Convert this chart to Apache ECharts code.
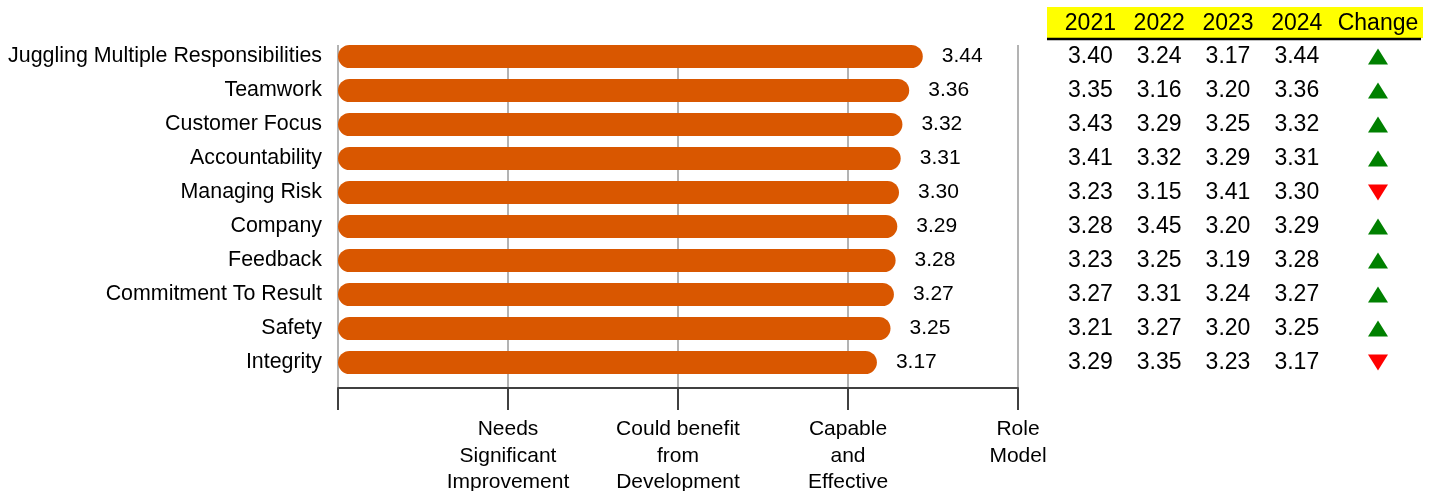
<!DOCTYPE html>
<html>
<head>
<meta charset="utf-8">
<title>Competency scores</title>
<script src="https://cdn.jsdelivr.net/npm/echarts@6/dist/echarts.min.js"></script>
<style>
  html, body { margin: 0; padding: 0; background: #fff; }
  #chart { width: 1436px; height: 491px; }
</style>
</head>
<body>
<div id="chart"></div>
<script>
  // categories, top to bottom
  var categories = ['Juggling Multiple Responsibilities', 'Teamwork', 'Customer Focus', 'Accountability',
    'Managing Risk', 'Company', 'Feedback', 'Commitment To Result', 'Safety', 'Integrity'];
  // yearly scores
  var scores2021 = [3.40, 3.35, 3.43, 3.41, 3.23, 3.28, 3.23, 3.27, 3.21, 3.29];
  var scores2022 = [3.24, 3.16, 3.29, 3.32, 3.15, 3.45, 3.25, 3.31, 3.27, 3.35];
  var scores2023 = [3.17, 3.20, 3.25, 3.29, 3.41, 3.20, 3.19, 3.24, 3.20, 3.23];
  var scores2024 = [3.44, 3.36, 3.32, 3.31, 3.30, 3.29, 3.28, 3.27, 3.25, 3.17];
  var yearColumns = ['2021', '2022', '2023', '2024'];
  var changeColumn = ['Change'];
  // rating scale labels (tick 0 has none)
  var scaleLabels = ['', 'Needs\nSignificant\nImprovement', 'Could benefit\nfrom\nDevelopment', 'Capable\nand\nEffective', 'Role\nModel'];

  var font = "'Liberation Sans', Arial, sans-serif";
  var chart = echarts.init(document.getElementById('chart'));

  // table cells
  var yearCols = [scores2021, scores2022, scores2023, scores2024];
  var cells = [];
  yearCols.forEach(function (col, ci) {
    col.forEach(function (v, ri) {
      cells.push([yearColumns[ci], categories[ri], v]);
    });
  });
  var arrows = categories.map(function (c, i) {
    var up = scores2024[i] >= scores2023[i];
    return {
      value: ['Change', c, +(scores2024[i] - scores2023[i]).toFixed(2)],
      symbolRotate: up ? 0 : 180,
      itemStyle: { color: up ? '#008000' : '#FF0000' }
    };
  });

  var headerLabel = { margin: 4, fontSize: 23, lineHeight: 23, color: '#000', fontFamily: font, interval: 0 };

  var option = {
    animation: false,
    textStyle: { fontFamily: font },
    graphic: [
      { type: 'rect', z: -10, shape: { x: 1047, y: 7, width: 376, height: 31 }, style: { fill: '#FFFF00' } },
      { type: 'line', z: -10, shape: { x1: 1047, y1: 39, x2: 1421, y2: 39 }, style: { stroke: '#000', lineWidth: 2.5 } }
    ],
    grid: [
      // frame: gridlines and rating axis
      { left: 338, width: 680, top: 45, height: 343, outerBoundsMode: 'none' },
      // bars
      { left: 338, width: 680, top: 39.5, height: 340, outerBoundsMode: 'none' },
      // table: years
      { left: 1056, width: 275.2, top: 39.5, height: 340, outerBoundsMode: 'none' },
      // table: change
      { left: 1338, width: 80, top: 39.5, height: 340, outerBoundsMode: 'none' }
    ],
    xAxis: [
      {
        gridIndex: 0, type: 'value', min: 0, max: 4, interval: 1,
        axisLine: { show: true, lineStyle: { color: '#404040', width: 2 } },
        axisTick: { show: true, length: 22, lineStyle: { color: '#404040', width: 2 } },
        splitLine: { show: true, lineStyle: { color: '#B3B3B3', width: 2 } },
        axisLabel: {
          margin: 28, fontSize: 21, lineHeight: 26.5, color: '#000', fontFamily: font,
          formatter: function (v) { return scaleLabels[Math.round(v)]; }
        }
      },
      { gridIndex: 1, type: 'value', min: 0, max: 4, show: false },
      {
        gridIndex: 2, type: 'category', data: yearColumns, position: 'top',
        axisLine: { show: false }, axisTick: { show: false }, splitLine: { show: false },
        axisLabel: headerLabel
      },
      {
        gridIndex: 3, type: 'category', data: changeColumn, position: 'top',
        axisLine: { show: false }, axisTick: { show: false }, splitLine: { show: false },
        axisLabel: headerLabel
      }
    ],
    yAxis: [
      { gridIndex: 0, type: 'value', min: 0, max: 1, show: false },
      {
        gridIndex: 1, type: 'category', data: categories, inverse: true,
        axisLine: { show: false }, axisTick: { show: false },
        axisLabel: { margin: 16, fontSize: 21.4, color: '#000', fontFamily: font, interval: 0 }
      },
      { gridIndex: 2, type: 'category', data: categories, inverse: true, show: false },
      { gridIndex: 3, type: 'category', data: categories, inverse: true, show: false }
    ],
    series: [
      {
        type: 'bar', xAxisIndex: 1, yAxisIndex: 1, data: scores2024,
        barWidth: 23,
        itemStyle: { color: '#D95700', borderRadius: 11.5 },
        label: {
          show: true, position: 'right', distance: 19, fontSize: 21, color: '#000', fontFamily: font,
          formatter: function (p) { return p.value.toFixed(2); }
        }
      },
      {
        type: 'scatter', xAxisIndex: 2, yAxisIndex: 2, data: cells,
        symbolSize: 1, itemStyle: { color: 'transparent', opacity: 1 },
        label: {
          show: true, position: 'inside', fontSize: 23, color: '#000', fontFamily: font,
          formatter: function (p) { return p.value[2].toFixed(2); }
        }
      },
      {
        type: 'scatter', xAxisIndex: 3, yAxisIndex: 3, data: arrows,
        symbol: 'triangle', symbolSize: [20, 16], itemStyle: { opacity: 1 }
      }
    ]
  };
  chart.setOption(option);
</script>
</body>
</html>
